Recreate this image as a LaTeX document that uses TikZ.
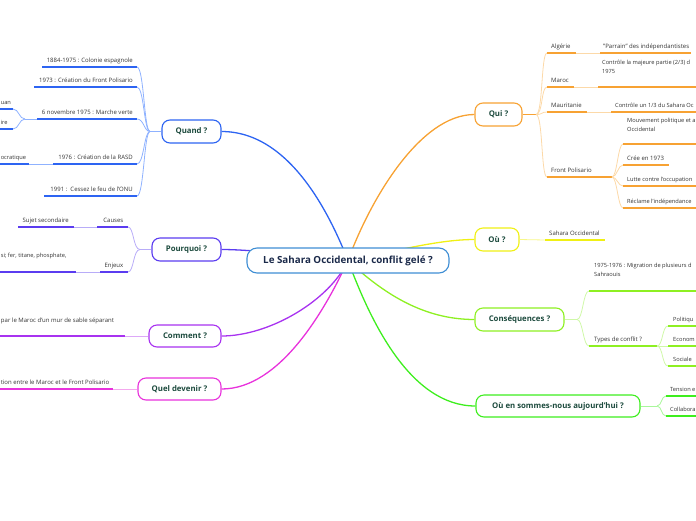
\documentclass[tikz,border=0pt]{standalone}
\usepackage{fontspec}
\setmainfont{Open Sans}
\usetikzlibrary{backgrounds}
\definecolor{blueD}{HTML}{2D64F2}
\definecolor{blueL}{HTML}{8FB2FF}
\definecolor{indD}{HTML}{5B3CF0}
\definecolor{indL}{HTML}{B8ACF8}
\definecolor{vioD}{HTML}{A832F0}
\definecolor{vioL}{HTML}{DDA8F8}
\definecolor{magD}{HTML}{E832DC}
\definecolor{magL}{HTML}{F4A8EE}
\definecolor{orD}{HTML}{F7A233}
\definecolor{orL}{HTML}{FCD9A8}
\definecolor{yelD}{HTML}{F0F014}
\definecolor{yelL}{HTML}{F7F78A}
\definecolor{lgD}{HTML}{8EF022}
\definecolor{lgL}{HTML}{CFF8A8}
\definecolor{grD}{HTML}{3EEE1E}
\definecolor{grL}{HTML}{A8F79A}
\definecolor{ctrB}{HTML}{3F8ED4}
\definecolor{nodetxt}{HTML}{1D4B3E}
\definecolor{leaftxt}{HTML}{333333}
\definecolor{ctrtxt}{HTML}{1B2A4A}
\begin{document}
\begin{tikzpicture}[x=1pt,y=-1pt,
  mainbox/.style={draw, rounded corners=8pt, line width=1.1pt, fill=white, text=nodetxt,
    font=\fontsize{7.8}{9}\selectfont\bfseries, minimum height=23pt, inner sep=0pt},
  leaf/.style={font=\fontsize{6}{9}\selectfont, text=leaftxt, inner sep=0pt},
  edgeleaf/.style={font=\fontsize{5.7}{9}\selectfont, text=leaftxt, inner sep=0pt},
  uline/.style={line width=1.7pt},
  conn/.style={line width=0.8pt},
  trunk/.style={line width=1.3pt}]
\useasboundingbox (0,0) rectangle (696,520);

% ---------- main nodes ----------
\node[draw=ctrB, rounded corners=10pt, line width=1.1pt, fill=white, text=ctrtxt,
  font=\fontsize{9.8}{11}\selectfont\bfseries, minimum width=202pt, minimum height=25pt, inner sep=0pt]
  (M) at (348,260.5) {Le Sahara Occidental, conflit gelé ?};
\node[mainbox, draw=blueD, minimum width=59pt] (Q) at (191.5,131.5) {Quand ?};
\node[mainbox, draw=indD, minimum width=69pt] (P) at (186.5,249.5) {Pourquoi ?};
\node[mainbox, draw=vioD, minimum width=72pt, minimum height=22pt] (C) at (185,336) {Comment ?};
\node[mainbox, draw=magD, minimum width=83pt, minimum height=22pt] (D) at (179.5,389) {Quel devenir ?};
\node[mainbox, draw=orD, minimum width=47pt] (R) at (498.5,114.5) {Qui ?};
\node[mainbox, draw=yelD, minimum width=44pt] (O) at (497,239.5) {Où ?};
\node[mainbox, draw=lgD, minimum width=89pt] (S) at (519.5,319.5) {Conséquences ?};
\node[mainbox, draw=grD, minimum width=164pt, minimum height=22pt] (N) at (558,406) {Où en sommes-nous aujourd'hui ?};

\begin{pgfonlayer}{background}
\draw[trunk, blueD] (M.center) .. controls (330,215) and (290,131.5) .. (Q.east);
\draw[trunk, indD] (M.center) .. controls (300,255) and (250,249.5) .. (P.east);
\draw[trunk, vioD] (M.center) .. controls (330,300) and (270,336) .. (C.east);
\draw[trunk, magD] (M.center) .. controls (325,310) and (280,389) .. (D.east);
\draw[trunk, orD] (M.center) .. controls (370,200) and (420,114.5) .. (R.west);
\draw[trunk, yelD] (M.center) .. controls (400,250) and (440,239.5) .. (O.west);
\draw[trunk, lgD] (M.center) .. controls (390,300) and (430,319.5) .. (S.west);
\draw[trunk, grD] (M.center) .. controls (370,320) and (410,406) .. (N.west);
\end{pgfonlayer}

% ---------- Quand ? ----------
\coordinate (jQ) at (150,131.5);
\draw[conn, blueL] (Q.west) -- (jQ);
\coordinate (q1a) at (42,67);  \coordinate (q1b) at (137,67);
\coordinate (q2a) at (34,87);  \coordinate (q2b) at (137,87);
\coordinate (q3a) at (37,119); \coordinate (q3b) at (137,119);
\coordinate (q4a) at (53,164); \coordinate (q4b) at (137,164);
\coordinate (q5a) at (44,196); \coordinate (q5b) at (137,196);
\foreach \k in {1,...,5} {
  \draw[conn, blueL] (jQ) .. controls +(-6,0) and +(7,0) .. (q\k b);
  \draw[uline, blueD] (q\k a) -- (q\k b);
}
\node[leaf, anchor=base east] (q1) at (133,62) {1884-1975 : Colonie espagnole};
\node[leaf, anchor=base east] (q2) at (133,82) {1973 : Création du Front Polisario};
\node[leaf, anchor=base east] (q3) at (133,114) {6 novembre 1975 : Marche verte};
\node[leaf, anchor=base east] (q4) at (133,159) {1976 : Création de la RASD};
\node[leaf, anchor=base east] (q5) at (133,191) {1991 :\ \ Cessez le feu de l'ONU};
% children of 6 novembre 1975
\coordinate (j3) at (25,119);
\draw[conn, blueL] (q3a) -- (j3);
\coordinate (q31a) at (-5,109); \coordinate (q31b) at (13,109);
\coordinate (q32a) at (-5,129); \coordinate (q32b) at (13,129);
\draw[conn, blueL] (j3) .. controls +(-6,0) and +(6,0) .. (q31b);
\draw[conn, blueL] (j3) .. controls +(-6,0) and +(6,0) .. (q32b);
\draw[uline, blueD] (q31a) -- (q31b);
\draw[uline, blueD] (q32a) -- (q32b);
\node[edgeleaf, anchor=base west] (q31) at (0.6,104) {uan};
\node[edgeleaf, anchor=base west] (q32) at (0.6,124) {ire};
% child of 1976
\coordinate (q41a) at (-5,164); \coordinate (q41b) at (29,164);
\draw[conn, blueL] (q41b) -- (q4a);
\draw[uline, blueD] (q41a) -- (q41b);
\node[edgeleaf, anchor=base west] (q41) at (0.6,159) {ocratique};

% ---------- Pourquoi ? ----------
\coordinate (jP) at (140,249.5);
\draw[conn, indL] (P.west) -- (jP);
\coordinate (pca) at (97,227); \coordinate (pcb) at (128,227);
\coordinate (pea) at (100,272); \coordinate (peb) at (128,272);
\draw[conn, indL] (jP) .. controls +(-7,0) and +(6,0) .. (pcb);
\draw[conn, indL] (jP) .. controls +(-7,0) and +(6,0) .. (peb);
\draw[uline, indD] (pca) -- (pcb);
\draw[uline, indD] (pea) -- (peb);
\node[leaf, anchor=base east] (pc) at (123.5,222) {Causes};
\node[leaf, anchor=base east] (pe) at (123.5,267) {Enjeux};
\coordinate (pc1a) at (18,227); \coordinate (pc1b) at (74,227);
\draw[conn, indL] (pc1b) -- (pca);
\draw[uline, indD] (pc1a) -- (pc1b);
\node[leaf, anchor=base east] (pc1) at (69,222) {Sujet secondaire};
\coordinate (pe1a) at (-5,272); \coordinate (pe1b) at (76,272);
\draw[conn, indL] (pe1b) -- (pea);
\draw[uline, indD] (pe1a) -- (pe1b);
\node[edgeleaf, anchor=base west] (pe1) at (0.6,257) {si; fer, titane, phosphate,};

% ---------- Comment ? ----------
\coordinate (c1a) at (-5,336); \coordinate (c1b) at (125,336);
\draw[conn, vioL] (C.west) -- (c1b);
\draw[uline, vioD] (c1a) -- (c1b);
\node[leaf, anchor=base west] (c1) at (0.8,322) {par le Maroc d'un mur de sable séparant};

% ---------- Quel devenir ? ----------
\coordinate (d1a) at (-5,389); \coordinate (d1b) at (113,389);
\draw[conn, magL] (D.west) -- (d1b);
\draw[uline, magD] (d1a) -- (d1b);
\node[leaf, anchor=base west] (d1) at (0.6,384) {tion entre le Maroc et le Front Polisario};

% ---------- Qui ? ----------
\coordinate (jR) at (536,114.5);
\draw[conn, orD] (R.east) -- (jR);
\coordinate (raa) at (547,53);  \coordinate (rab) at (576,53);
\coordinate (rma) at (547,87);  \coordinate (rmb) at (574,87);
\coordinate (rta) at (547,112); \coordinate (rtb) at (587,112);
\coordinate (rfa) at (547,177); \coordinate (rfb) at (612,177);
\foreach \k in {ra,rm,rt,rf} {
  \draw[conn, orL] (jR) .. controls +(7,0) and +(-6,0) .. (\k a);
  \draw[uline, orD] (\k a) -- (\k b);
}
\node[leaf, anchor=base west] (ra) at (551,48) {Algérie};
\node[leaf, anchor=base west] (rm) at (551,82) {Maroc};
\node[leaf, anchor=base west] (rt) at (551,107) {Mauritanie};
\node[leaf, anchor=base west] (rf) at (551,172) {Front Polisario};
% children
\coordinate (ra1a) at (600,53); \coordinate (ra1b) at (691,53);
\draw[conn, orL] (rab) -- (ra1a);
\draw[uline, orD] (ra1a) -- (ra1b);
\node[leaf, anchor=base west] (ra1) at (603,48) {"Parrain" des indépendantistes};
\coordinate (rm1a) at (598,87); \coordinate (rm1b) at (700,87);
\draw[conn, orL] (rmb) -- (rm1a);
\draw[uline, orD] (rm1a) -- (rm1b);
\node[edgeleaf, anchor=base west, align=left] (rm1) at (602,73) {Contrôle la majeure partie (2/3) d\\1975};
\coordinate (rt1a) at (611,112); \coordinate (rt1b) at (700,112);
\draw[conn, orL] (rtb) -- (rt1a);
\draw[uline, orD] (rt1a) -- (rt1b);
\node[edgeleaf, anchor=base west] (rt1) at (615,107) {Contrôle un 1/3 du Sahara Oc};
% Front Polisario children
\coordinate (f1a) at (623,144); \coordinate (f1b) at (700,144);
\coordinate (f2a) at (623,165); \coordinate (f2b) at (669,165);
\coordinate (f3a) at (623,186); \coordinate (f3b) at (700,186);
\coordinate (f4a) at (623,208); \coordinate (f4b) at (700,208);
\foreach \k in {f1,f2,f3,f4} {
  \draw[conn, orL] (rfb) .. controls +(5,0) and +(-5,0) .. (\k a);
  \draw[uline, orD] (\k a) -- (\k b);
}
\node[edgeleaf, anchor=base west, align=left] (f1) at (627,131) {Mouvement politique et a\\Occidental};
\node[leaf, anchor=base west] (f2) at (627,160) {Crée en 1973};
\node[edgeleaf, anchor=base west] (f3) at (627,181) {Lutte contre l'occupation};
\node[edgeleaf, anchor=base west] (f4) at (627,203) {Réclame l'indépendance};

% ---------- Où ? ----------
\coordinate (o1a) at (545,240); \coordinate (o1b) at (605,240);
\draw[conn, yelL] (O.east) -- (o1a);
\draw[uline, yelD] (o1a) -- (o1b);
\node[leaf, anchor=base west] (o1) at (549,235) {Sahara Occidental};

% ---------- Conséquences ? ----------
\coordinate (jS) at (577,319.5);
\draw[conn, lgL] (S.east) -- (jS);
\coordinate (s1a) at (589,291); \coordinate (s1b) at (700,291);
\coordinate (s2a) at (589,346); \coordinate (s2b) at (657,346);
\foreach \k in {s1,s2} {
  \draw[conn, lgL] (jS) .. controls +(6,0) and +(-6,0) .. (\k a);
  \draw[uline, lgD] (\k a) -- (\k b);
}
\node[edgeleaf, anchor=base west, align=left] (s1) at (594,276) {1975-1976 : Migration de plusieurs d\\Sahraouis};
\node[leaf, anchor=base west] (s2) at (594,341) {Types de conflit ?};
\coordinate (s21a) at (668,326); \coordinate (s21b) at (700,326);
\coordinate (s22a) at (668,346); \coordinate (s22b) at (700,346);
\coordinate (s23a) at (668,366); \coordinate (s23b) at (700,366);
\foreach \k in {s21,s22,s23} {
  \draw[conn, lgL] (s2b) .. controls +(6,0) and +(-6,0) .. (\k a);
  \draw[uline, lgD] (\k a) -- (\k b);
}
\node[edgeleaf, anchor=base west] (s21) at (673,321) {Politiqu};
\node[edgeleaf, anchor=base west] (s22) at (673,341) {Econom};
\node[edgeleaf, anchor=base west] (s23) at (673,361) {Sociale};

% ---------- Où en sommes-nous ----------
\coordinate (jN) at (657,406);
\draw[conn, grL] (N.east) -- (jN);
\coordinate (n1a) at (666,396); \coordinate (n1b) at (700,396);
\coordinate (n2a) at (666,416); \coordinate (n2b) at (700,416);
\foreach \k in {n1,n2} {
  \draw[conn, grL] (jN) .. controls +(5,0) and +(-5,0) .. (\k a);
  \draw[uline, grD] (\k a) -- (\k b);
}
\node[edgeleaf, anchor=base west] (n1) at (670,391) {Tension e};
\node[edgeleaf, anchor=base west] (n2) at (670,411) {Collabora};
\end{tikzpicture}
\end{document}
